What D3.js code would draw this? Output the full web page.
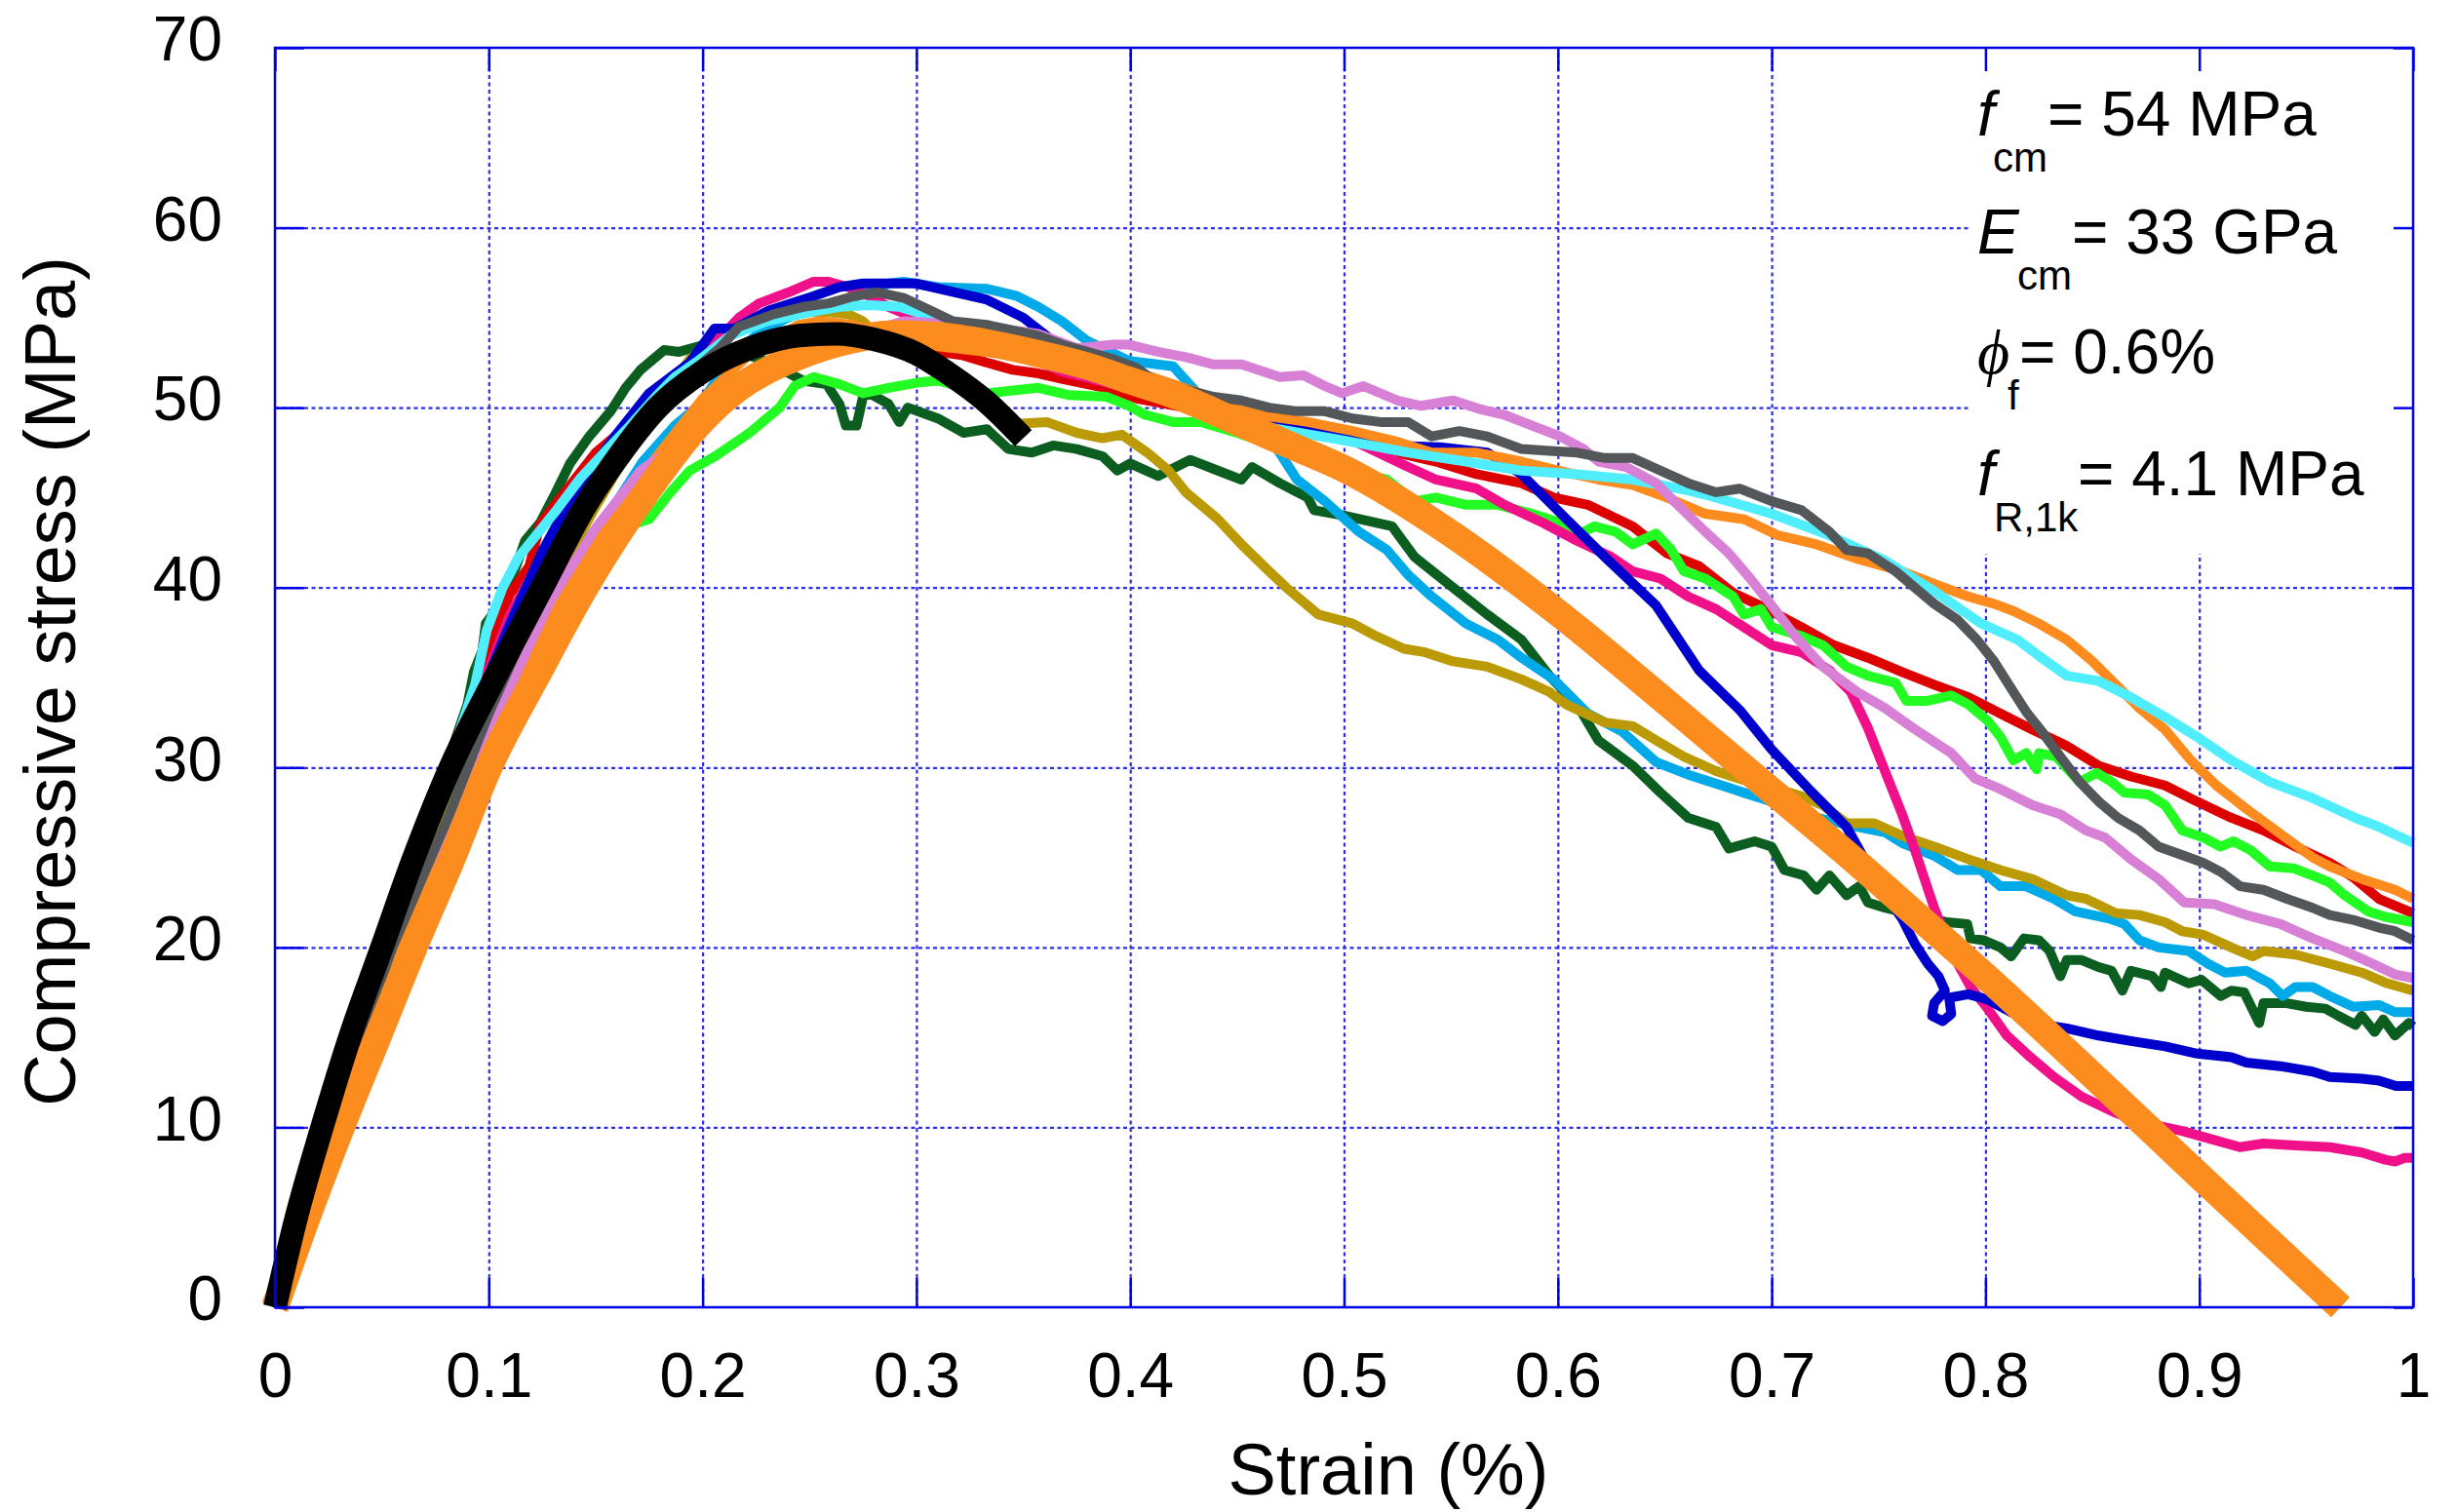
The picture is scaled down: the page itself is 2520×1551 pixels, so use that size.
<!DOCTYPE html>
<html>
<head>
<meta charset="utf-8">
<title>Compressive stress-strain</title>
<script src="https://d3js.org/d3.v7.min.js"></script>
<style>
  body { margin: 0; background: #fff; }
  text { font-family: "Liberation Sans", Arial, sans-serif; fill: #000; }
</style>
</head>
<body>
<svg id="chart"></svg>
<script>
// ---- data (strain %, stress MPa) ----
var xTicks = [0, 0.1, 0.2, 0.3, 0.4, 0.5, 0.6, 0.7, 0.8, 0.9, 1];
var xTickLabels = ["0", "0.1", "0.2", "0.3", "0.4", "0.5", "0.6", "0.7", "0.8", "0.9", "1"];
var yTicks = [0, 10, 20, 30, 40, 50, 60, 70];

var darkGreen = [[0,0],[0.021,10],[0.048,20],[0.077,29],[0.09,33.5],[0.093,35.3],[0.097,36.5],[0.0986,38.0],[0.107,39.3],[0.1126,41.1],[0.117,42.6],[0.124,43.6],[0.131,45.2],[0.138,46.9],[0.147,48.4],[0.157,49.8],[0.164,51.1],[0.171,52.1],[0.182,53.2],[0.189,53.1],[0.201,53.5],[0.215,53.2],[0.231,52.5],[0.247,51.5],[0.258,51.3],[0.264,50.2],[0.267,49.0],[0.272,49.0],[0.275,50.6],[0.278,50.8],[0.287,50.2],[0.292,49.2],[0.296,50.0],[0.31,49.4],[0.322,48.6],[0.333,48.8],[0.343,47.7],[0.354,47.5],[0.364,47.9],[0.375,47.7],[0.387,47.3],[0.394,46.5],[0.4,46.9],[0.413,46.2],[0.428,47.1],[0.441,46.5],[0.452,46.0],[0.457,46.7],[0.47,45.8],[0.483,45.0],[0.486,44.3],[0.5,44.0],[0.5225,43.4],[0.533,41.7],[0.551,40.0],[0.567,38.5],[0.583,37.1],[0.596,35.1],[0.609,33.5],[0.619,31.5],[0.635,30.1],[0.648,28.6],[0.661,27.2],[0.674,26.7],[0.677,26.1],[0.68,25.5],[0.692,25.9],[0.7,25.6],[0.706,24.3],[0.715,24.0],[0.721,23.2],[0.727,24.0],[0.735,22.9],[0.741,23.4],[0.745,22.5],[0.753,22.2],[0.771,21.7],[0.782,21.4],[0.7915,21.3],[0.793,20.5],[0.799,20.4],[0.807,20.0],[0.812,19.5],[0.818,20.5],[0.825,20.4],[0.83,19.8],[0.835,18.4],[0.838,19.3],[0.845,19.3],[0.853,18.9],[0.859,18.7],[0.864,17.6],[0.868,18.7],[0.878,18.4],[0.882,17.8],[0.884,18.6],[0.895,18.0],[0.901,18.2],[0.91,17.3],[0.915,17.6],[0.921,17.5],[0.928,15.8],[0.93,16.9],[0.941,16.9],[0.95,16.7],[0.959,16.6],[0.965,16.2],[0.973,15.7],[0.976,16.2],[0.982,15.3],[0.986,16.0],[0.9915,15.1],[0.998,15.8],[1.0,15.6]];

var skyBlue = [[0,0],[0.025,10],[0.055,20],[0.09,30],[0.115,36.5],[0.136,40.9],[0.147,42.8],[0.159,44.6],[0.172,47.0],[0.187,49.0],[0.199,50.2],[0.213,52.7],[0.2265,54.2],[0.24,55.0],[0.254,55.6],[0.268,56.0],[0.287,56.9],[0.294,57.0],[0.31,56.7],[0.333,56.6],[0.347,56.2],[0.357,55.6],[0.368,54.8],[0.38,53.7],[0.3995,52.6],[0.42,52.3],[0.433,50.6],[0.449,49.9],[0.465,48.4],[0.478,46.0],[0.491,44.8],[0.507,43.1],[0.52,42.1],[0.53,40.7],[0.541,39.5],[0.557,38.0],[0.572,37.1],[0.583,36.1],[0.598,34.9],[0.614,33.0],[0.63,32.0],[0.646,30.3],[0.661,29.6],[0.687,28.6],[0.7,28.1],[0.714,27.4],[0.74,26.7],[0.753,26.4],[0.761,25.8],[0.776,25.1],[0.787,24.3],[0.798,24.3],[0.807,23.4],[0.819,23.4],[0.832,22.7],[0.842,22.0],[0.858,21.6],[0.865,21.3],[0.872,20.4],[0.881,20.0],[0.895,19.8],[0.904,19.1],[0.912,18.6],[0.922,18.7],[0.933,18.0],[0.939,17.3],[0.945,17.8],[0.953,17.8],[0.961,17.3],[0.972,16.7],[0.984,16.8],[0.9915,16.4],[1.0,16.4]];

var olive = [[0,0],[0.025,10],[0.055,20],[0.085,28.5],[0.094,31.1],[0.12,38],[0.15,44.5],[0.17,48.5],[0.187,51.5],[0.194,52.7],[0.2056,53.7],[0.217,54.6],[0.231,55.0],[0.245,55.3],[0.259,55.3],[0.268,55.2],[0.275,54.8],[0.28,54.2],[0.3,53.0],[0.315,51.8],[0.333,50.2],[0.347,49.1],[0.361,49.2],[0.375,48.6],[0.387,48.3],[0.396,48.5],[0.408,47.5],[0.418,46.5],[0.426,45.3],[0.441,43.8],[0.452,42.4],[0.465,40.9],[0.473,40.0],[0.488,38.5],[0.504,38.0],[0.515,37.3],[0.528,36.6],[0.538,36.4],[0.551,35.9],[0.567,35.6],[0.583,34.9],[0.596,34.2],[0.604,33.5],[0.622,32.5],[0.635,32.3],[0.646,31.5],[0.659,30.6],[0.674,29.8],[0.687,29.3],[0.7,28.9],[0.714,28.4],[0.724,27.9],[0.735,26.9],[0.748,26.9],[0.761,26.2],[0.776,25.6],[0.792,24.9],[0.807,24.3],[0.822,23.8],[0.838,22.9],[0.847,22.7],[0.861,21.9],[0.872,21.8],[0.884,21.4],[0.892,20.9],[0.902,20.7],[0.915,20.0],[0.925,19.5],[0.93,19.8],[0.945,19.6],[0.961,19.1],[0.976,18.6],[0.988,18.0],[1.0,17.6]];

var red = [[0,0],[0.022,10],[0.05,20],[0.08,30],[0.1,36.5],[0.1096,39.6],[0.119,41.2],[0.124,43.5],[0.131,44.6],[0.15,47.5],[0.18,50.5],[0.21,52.5],[0.24,53.8],[0.27,54.2],[0.299,53.3],[0.31,53.1],[0.322,52.9],[0.333,52.5],[0.345,52.1],[0.357,51.9],[0.368,51.6],[0.38,51.3],[0.392,51.0],[0.403,50.5],[0.426,50.0],[0.447,49.4],[0.465,49.2],[0.486,48.7],[0.504,48.2],[0.525,47.5],[0.543,47.0],[0.562,46.3],[0.583,45.8],[0.598,45.0],[0.614,44.6],[0.635,43.4],[0.651,41.9],[0.666,41.2],[0.682,39.7],[0.698,38.8],[0.714,37.8],[0.729,36.8],[0.745,36.1],[0.761,35.3],[0.776,34.6],[0.792,33.9],[0.807,33.0],[0.822,32.1],[0.838,31.2],[0.853,30.1],[0.868,29.5],[0.884,29.0],[0.899,28.1],[0.915,27.2],[0.93,26.5],[0.945,25.6],[0.961,24.7],[0.972,23.9],[0.984,22.7],[1.0,21.9]];

var green = [[0,0],[0.03,10],[0.065,20],[0.1,30],[0.122,35],[0.1405,40.3],[0.147,41.7],[0.159,43.2],[0.175,43.8],[0.185,45.3],[0.194,46.5],[0.206,47.3],[0.222,48.6],[0.236,50.0],[0.243,51.2],[0.252,51.7],[0.264,51.3],[0.275,50.8],[0.287,51.1],[0.301,51.4],[0.31,51.5],[0.333,50.8],[0.357,51.1],[0.371,50.7],[0.389,50.6],[0.3995,50.1],[0.407,49.6],[0.42,49.2],[0.433,49.2],[0.45,48.6],[0.475,47.6],[0.5015,46.5],[0.52,46.0],[0.533,44.8],[0.543,45.0],[0.557,44.6],[0.572,44.6],[0.588,44.1],[0.601,43.6],[0.609,42.9],[0.617,43.4],[0.627,43.1],[0.635,42.4],[0.646,43.0],[0.653,42.1],[0.659,40.9],[0.669,40.5],[0.682,39.5],[0.687,38.5],[0.695,38.8],[0.7,37.8],[0.714,37.3],[0.724,36.8],[0.735,35.6],[0.745,35.1],[0.758,34.7],[0.763,33.7],[0.773,33.7],[0.784,34.0],[0.792,33.5],[0.801,32.6],[0.807,31.7],[0.813,30.4],[0.819,30.8],[0.824,29.9],[0.825,30.8],[0.833,30.6],[0.844,29.2],[0.852,29.7],[0.859,29.2],[0.865,28.6],[0.876,28.5],[0.884,27.9],[0.892,26.5],[0.902,26.1],[0.91,25.6],[0.916,25.9],[0.924,25.4],[0.933,24.5],[0.944,24.4],[0.955,23.9],[0.961,23.6],[0.968,22.9],[0.979,22.0],[0.987,21.7],[1.0,21.4]];

var pink = [[0,0],[0.022,10],[0.05,20],[0.082,30],[0.11,38.5],[0.135,44],[0.161,47.9],[0.19,51.5],[0.205,53.5],[0.217,55.0],[0.2265,55.8],[0.24,56.4],[0.252,57.0],[0.259,57.0],[0.268,56.7],[0.278,56.2],[0.287,55.6],[0.299,55.0],[0.32,54.2],[0.34,53.4],[0.368,52.0],[0.392,51.3],[0.42,50.6],[0.447,49.9],[0.465,49.4],[0.491,48.9],[0.509,47.9],[0.53,46.7],[0.543,46.0],[0.562,45.5],[0.575,44.6],[0.593,43.6],[0.609,42.6],[0.625,41.7],[0.635,40.9],[0.648,40.5],[0.661,39.5],[0.674,38.8],[0.687,37.8],[0.7,36.8],[0.714,36.4],[0.727,35.4],[0.737,34.2],[0.745,32.2],[0.753,29.8],[0.761,27.4],[0.767,25.4],[0.7715,23.8],[0.776,22.2],[0.781,20.7],[0.787,19.1],[0.793,17.8],[0.801,16.6],[0.81,15.1],[0.821,13.9],[0.832,12.8],[0.845,11.7],[0.861,10.8],[0.876,10.2],[0.892,9.8],[0.907,9.3],[0.919,8.9],[0.93,9.1],[0.945,9.0],[0.961,8.9],[0.976,8.6],[0.987,8.2],[0.9915,8.1],[0.996,8.3],[1.0,8.3]];

var blue = [[0,0],[0.022,10],[0.05,20],[0.082,30],[0.11,38],[0.125,42],[0.14,45.3],[0.159,48.4],[0.175,50.8],[0.194,52.5],[0.2056,54.4],[0.215,54.4],[0.231,55.4],[0.252,56.2],[0.264,56.7],[0.275,56.9],[0.3,56.9],[0.322,56.3],[0.333,56.0],[0.35,55.0],[0.364,53.7],[0.38,52.7],[0.4,51.5],[0.414,50.8],[0.45,49.7],[0.5,48.6],[0.52,47.9],[0.545,47.8],[0.567,47.5],[0.583,46.3],[0.604,43.8],[0.622,41.7],[0.646,39.0],[0.666,35.4],[0.685,33.2],[0.7,31.0],[0.719,28.6],[0.735,26.7],[0.75,23.5],[0.761,21.6],[0.767,20.2],[0.773,19.1],[0.778,18.4],[0.781,17.6],[0.776,16.9],[0.775,16.2],[0.78,15.9],[0.784,16.3],[0.783,17.2],[0.792,17.4],[0.801,17.1],[0.812,16.4],[0.822,15.8],[0.838,15.5],[0.853,15.1],[0.868,14.8],[0.884,14.5],[0.899,14.1],[0.915,13.9],[0.922,13.6],[0.938,13.4],[0.953,13.1],[0.961,12.8],[0.976,12.7],[0.984,12.6],[0.992,12.3],[1.0,12.3]];

var orangeThin = [[0,0],[0.028,10],[0.06,20],[0.094,30],[0.137,40],[0.17,46],[0.2,50.5],[0.225,53.3],[0.245,54.6],[0.255,54.8],[0.27,54.6],[0.29,54.0],[0.31,53.4],[0.34,53.0],[0.37,52.4],[0.41,51.7],[0.435,50.7],[0.46,49.6],[0.483,49.2],[0.504,48.7],[0.525,48.1],[0.541,47.5],[0.562,47.5],[0.583,47.0],[0.604,46.4],[0.619,46.0],[0.635,45.7],[0.651,45.0],[0.669,44.1],[0.687,43.8],[0.703,42.9],[0.721,42.4],[0.74,41.6],[0.761,40.9],[0.776,40.2],[0.792,39.5],[0.804,39.1],[0.813,38.7],[0.825,38.0],[0.838,37.1],[0.85,35.9],[0.861,34.6],[0.872,33.3],[0.884,32.1],[0.896,30.4],[0.908,29.0],[0.922,27.7],[0.938,26.3],[0.953,25.0],[0.961,24.5],[0.976,23.8],[0.9915,23.2],[1.0,22.7]];

var cyan = [[0,0],[0.022,10],[0.05,20],[0.078,29],[0.0936,34.6],[0.099,37.6],[0.1065,40.0],[0.114,41.7],[0.131,44.2],[0.143,46.1],[0.154,47.5],[0.166,49.0],[0.178,50.6],[0.187,51.7],[0.199,52.7],[0.213,54.0],[0.23,54.8],[0.25,55.3],[0.264,55.6],[0.278,55.7],[0.292,55.6],[0.303,55.2],[0.317,54.6],[0.34,53.6],[0.37,52.4],[0.4,51.2],[0.43,50.0],[0.46,49.0],[0.499,48.2],[0.53,47.5],[0.557,47.0],[0.583,46.5],[0.609,46.3],[0.635,46.0],[0.661,45.4],[0.674,45.0],[0.7,44.1],[0.727,42.9],[0.753,41.5],[0.761,40.9],[0.776,39.8],[0.798,38.0],[0.815,37.1],[0.825,36.2],[0.838,35.1],[0.853,34.8],[0.868,33.9],[0.884,32.8],[0.899,31.7],[0.915,30.4],[0.933,29.2],[0.953,28.3],[0.973,27.2],[0.984,26.7],[1.0,25.8]];

var violet = [[0,0],[0.028,10],[0.06,18.5],[0.075,24],[0.09,29],[0.11,34.5],[0.129,39.3],[0.15,43.3],[0.171,46.5],[0.185,47.7],[0.21,50.5],[0.24,52.4],[0.27,54.0],[0.294,54.8],[0.31,54.7],[0.333,54.5],[0.357,54.1],[0.375,53.3],[0.392,53.5],[0.3995,53.5],[0.413,53.1],[0.426,52.8],[0.439,52.4],[0.452,52.4],[0.47,51.7],[0.481,51.8],[0.491,51.2],[0.499,50.8],[0.509,51.2],[0.525,50.4],[0.536,50.1],[0.551,50.4],[0.564,49.9],[0.575,49.6],[0.59,48.9],[0.601,48.4],[0.612,47.7],[0.619,47.0],[0.632,46.7],[0.646,45.8],[0.656,44.6],[0.669,43.1],[0.68,41.9],[0.69,40.5],[0.7,39.0],[0.711,37.3],[0.724,35.6],[0.74,34.2],[0.753,33.3],[0.766,32.2],[0.784,30.8],[0.795,29.4],[0.807,28.8],[0.822,27.9],[0.835,27.4],[0.847,26.5],[0.856,26.1],[0.868,24.9],[0.881,23.8],[0.893,22.5],[0.907,22.4],[0.922,21.8],[0.938,21.3],[0.953,20.5],[0.968,19.8],[0.981,19.1],[0.9915,18.5],[1.0,18.3]];

var gray = [[0,0],[0.025,10],[0.055,20],[0.082,27.5],[0.1,33],[0.13,41],[0.16,47],[0.19,51.5],[0.208,53.3],[0.217,54.5],[0.2335,55.2],[0.247,55.6],[0.259,55.8],[0.271,56.2],[0.282,56.4],[0.294,56.1],[0.303,55.6],[0.317,54.8],[0.333,54.6],[0.345,54.3],[0.357,54.0],[0.368,53.5],[0.392,52.7],[0.403,52.2],[0.4125,51.4],[0.426,51.0],[0.439,50.6],[0.452,50.4],[0.465,50.0],[0.478,49.8],[0.491,49.8],[0.504,49.4],[0.517,49.2],[0.53,49.2],[0.541,48.4],[0.554,48.7],[0.567,48.4],[0.583,47.7],[0.596,47.6],[0.609,47.5],[0.622,47.2],[0.635,47.2],[0.648,46.5],[0.661,45.8],[0.674,45.3],[0.685,45.5],[0.7,44.8],[0.714,44.3],[0.727,43.1],[0.735,42.1],[0.745,41.9],[0.758,40.9],[0.768,39.9],[0.776,39.1],[0.787,38.2],[0.796,37.1],[0.804,35.9],[0.812,34.4],[0.819,33.1],[0.827,31.9],[0.835,30.6],[0.844,29.2],[0.853,28.1],[0.862,27.2],[0.872,26.5],[0.881,25.6],[0.895,25.0],[0.902,24.7],[0.91,24.2],[0.919,23.4],[0.93,23.2],[0.941,22.7],[0.953,22.2],[0.961,21.8],[0.973,21.5],[0.984,21.1],[0.9915,20.9],[1.0,20.4]];

// model curves
var modelOrange = [[0,0],[0.015,5],[0.031,10],[0.048,15],[0.065,20],[0.083,25],[0.1,30],[0.122,35],[0.145,40],[0.175,45.5],[0.2,49.3],[0.217,51.1],[0.24,52.6],[0.264,53.6],[0.29,54.1],[0.31,54.0],[0.333,53.6],[0.357,53.0],[0.38,52.3],[0.4,51.5],[0.425,50.5],[0.45,49.2],[0.475,47.9],[0.5,46.6],[0.55,43.0],[0.6,38.6],[0.65,33.7],[0.7,28.7],[0.74,24.7],[0.761,22.5],[0.8,18.4],[0.85,12.9],[0.9,7.3],[0.966,0]];
var modelBlack = [[0,0],[0.01,5],[0.022,10],[0.035,15],[0.05,20],[0.065,25],[0.082,30],[0.103,35],[0.125,40],[0.145,44.5],[0.162,47.5],[0.179,50],[0.2,52],[0.222,53.3],[0.245,54],[0.262,54.1],[0.28,53.8],[0.3,53],[0.315,51.9],[0.333,50.3],[0.35,48.3]];

// drawing order, bottom to top
var tests = [
  {data: darkGreen, color: "#0b5e1f"},
  {data: skyBlue, color: "#00a9e8"},
  {data: olive, color: "#bc9a05"},
  {data: red, color: "#dd0000"},
  {data: green, color: "#22fc22"},
  {data: pink, color: "#f0108a"},
  {data: blue, color: "#0000cc"},
  {data: orangeThin, color: "#fd8b1d"},
  {data: cyan, color: "#50eefc"},
  {data: violet, color: "#d87fd6"},
  {data: gray, color: "#545759"}
];

var W = 2520, H = 1551;
var svg = d3.select("#chart").attr("width", W).attr("height", H);
svg.append("rect").attr("width", W).attr("height", H).attr("fill", "#fff");

var x = d3.scaleLinear().domain([0, 1]).range([282, 2475]);
var y = d3.scaleLinear().domain([0, 70]).range([1341, 49]);
var plotW = x(1) - x(0), plotH = y(0) - y(70);
var blueAxis = "#0000e6", blueGrid = "#2c2cf2";

// grid
var gx = svg.append("g").attr("transform", "translate(0," + y(0) + ")")
  .call(d3.axisBottom(x).tickValues(xTicks.slice(1, -1)).tickSize(-plotH).tickFormat(""));
var gy = svg.append("g").attr("transform", "translate(" + x(0) + ",0)")
  .call(d3.axisLeft(y).tickValues(yTicks.slice(1, -1)).tickSize(-plotW).tickFormat(""));
[gx, gy].forEach(function(g) {
  g.select(".domain").remove();
  g.selectAll("line").attr("stroke", blueGrid).attr("stroke-width", 2.2).attr("stroke-dasharray", "4,3.5");
});

// white box behind the parameter text
svg.append("rect").attr("x", 2021).attr("y", y(70)).attr("width", x(1) - 2021).attr("height", 568 - y(70)).attr("fill", "#fff");

// curves
var line = d3.line().x(function(d) { return x(d[0]); }).y(function(d) { return y(d[1]); });
var smooth = d3.line().x(function(d) { return x(d[0]); }).y(function(d) { return y(d[1]); }).curve(d3.curveMonotoneX);

svg.append("g").selectAll("path").data(tests).enter().append("path")
  .attr("d", function(d) { return line(d.data); })
  .attr("fill", "none").attr("stroke", function(d) { return d.color; })
  .attr("stroke-width", 10).attr("stroke-linejoin", "round");

svg.append("path").attr("d", smooth(modelOrange)).attr("fill", "none")
  .attr("stroke", "#fd8c1e").attr("stroke-width", 28);
svg.append("path").attr("d", smooth(modelBlack)).attr("fill", "none")
  .attr("stroke", "#000").attr("stroke-width", 24);

// frame and ticks
svg.append("rect").attr("x", x(0)).attr("y", y(70)).attr("width", plotW).attr("height", plotH)
  .attr("fill", "none").attr("stroke", blueAxis).attr("stroke-width", 2.5);

function ticks(g) { g.select(".domain").remove(); g.selectAll("line").attr("stroke", blueAxis).attr("stroke-width", 2.5); }
svg.append("g").attr("transform", "translate(" + x(0) + ",0)")
  .call(d3.axisLeft(y).tickValues(yTicks).tickSize(-30).tickFormat("")).call(ticks);
svg.append("g").attr("transform", "translate(" + x(1) + ",0)")
  .call(d3.axisRight(y).tickValues(yTicks).tickSize(-20).tickFormat("")).call(ticks);
svg.append("g").attr("transform", "translate(0," + y(0) + ")")
  .call(d3.axisBottom(x).tickValues(xTicks).tickSize(-30).tickFormat("")).call(ticks);
svg.append("g").attr("transform", "translate(0," + y(70) + ")")
  .call(d3.axisTop(x).tickValues(xTicks).tickSize(-24).tickFormat("")).call(ticks);

// tick labels
var yl = svg.append("g").attr("transform", "translate(" + x(0) + ",0)")
  .call(d3.axisLeft(y).tickValues(yTicks).tickSize(0).tickPadding(54));
yl.select(".domain").remove();
yl.selectAll("text").attr("font-size", 64).attr("dy", "0.2em")
  .style("font-family", "'Liberation Sans', Arial, sans-serif").attr("fill", "#000");

var xl = svg.append("g").attr("transform", "translate(0," + y(0) + ")")
  .call(d3.axisBottom(x).tickValues(xTicks).tickSize(0).tickPadding(47)
    .tickFormat(function(d, i) { return xTickLabels[i]; }));
xl.select(".domain").remove();
xl.selectAll("text").attr("font-size", 64)
  .style("font-family", "'Liberation Sans', Arial, sans-serif").attr("fill", "#000");

// axis titles
svg.append("text").attr("x", 1424).attr("y", 1533).attr("text-anchor", "middle")
  .attr("font-size", 74).text("Strain (%)");
svg.append("text").attr("transform", "translate(77,699) rotate(-90)").attr("text-anchor", "middle")
  .attr("font-size", 74).text("Compressive stress (MPa)");

// parameter block
var params = [
  {sym: "f", symFont: "'Liberation Sans', Arial, sans-serif", sub: "cm", subX: 2044, rest: "= 54 MPa", restX: 2100, base: 139},
  {sym: "E", symFont: "'Liberation Sans', Arial, sans-serif", sub: "cm", subX: 2069, rest: "= 33 GPa", restX: 2125, base: 260},
  {sym: "\u03D5", symFont: "'Liberation Serif', 'DejaVu Serif', serif", sub: "f", subX: 2059, rest: "= 0.6%", restX: 2071, base: 383},
  {sym: "f", symFont: "'Liberation Sans', Arial, sans-serif", sub: "R,1k", subX: 2045, rest: "= 4.1 MPa", restX: 2131, base: 508}
];
params.forEach(function(p) {
  svg.append("text").attr("x", 2028).attr("y", p.base).attr("font-size", 64)
    .attr("font-style", "italic").style("font-family", p.symFont).text(p.sym);
  svg.append("text").attr("x", p.subX).attr("y", p.base + 37).attr("font-size", 42).text(p.sub);
  svg.append("text").attr("x", p.restX).attr("y", p.base).attr("font-size", 64).text(p.rest);
});
</script>
</body>
</html>
